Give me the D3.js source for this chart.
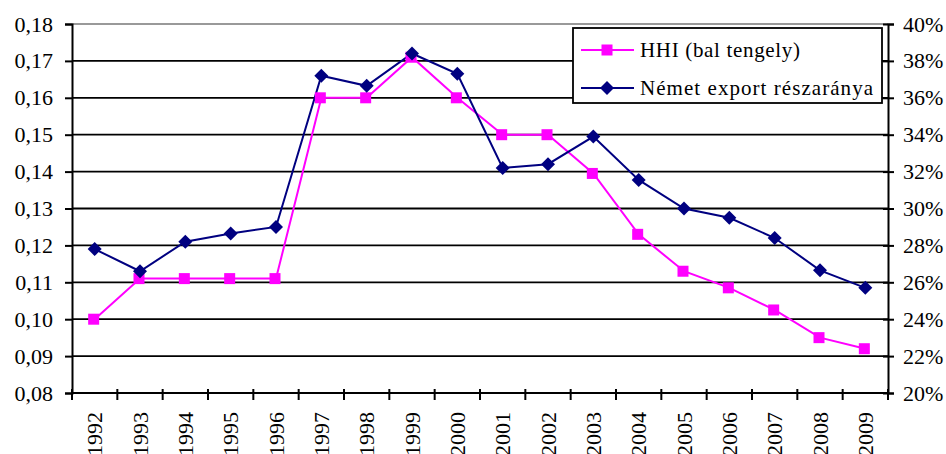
<!DOCTYPE html>
<html>
<head>
<meta charset="utf-8">
<script src="https://cdn.jsdelivr.net/npm/d3@7"></script>
<style>
  body { margin: 0; background: #fff; }
  svg text { font-family: "Liberation Serif", serif !important; }
</style>
</head>
<body>
<div id="chart"></div>
<script>
// Data
const years = ["1992", "1993", "1994", "1995", "1996", "1997", "1998", "1999", "2000",
  "2001", "2002", "2003", "2004", "2005", "2006", "2007", "2008", "2009"];
const hhi = [0.100, 0.111, 0.111, 0.111, 0.111, 0.160, 0.160, 0.171, 0.160,
  0.150, 0.150, 0.1395, 0.123, 0.113, 0.1085, 0.1025, 0.095, 0.092];
const germanShare = [0.278, 0.266, 0.282, 0.2865, 0.290, 0.372, 0.3665, 0.384, 0.373,
  0.322, 0.324, 0.339, 0.3155, 0.300, 0.295, 0.284, 0.2665, 0.257];
const leftTicks = [0.08, 0.09, 0.10, 0.11, 0.12, 0.13, 0.14, 0.15, 0.16, 0.17, 0.18];
const rightTicks = [0.20, 0.22, 0.24, 0.26, 0.28, 0.30, 0.32, 0.34, 0.36, 0.38, 0.40];
const seriesNames = ["HHI (bal tengely)", "Német export részaránya"];

const data = years.map((y, i) => ({year: y, hhi: hhi[i], share: germanShare[i]}));

// The SVG dimensions
const margin = {top: 24, right: 58, bottom: 61, left: 72},
  width = 946 - margin.left - margin.right,
  height = 454 - margin.top - margin.bottom;

const pink = "#ff00ff", navy = "#000080";

// Scales
const x = d3.scaleBand().domain(years).range([0, width]);
const yL = d3.scaleLinear().domain([0.08, 0.18]).range([height, 0]);
const yR = d3.scaleLinear().domain([0.20, 0.40]).range([height, 0]);
const cx = d => x(d.year) + x.bandwidth() / 2;

const svg = d3.select("#chart").append("svg")
  .attr("width", 946).attr("height", 454)
  .attr("font-family", "Liberation Serif, serif")
  .append("g")
  .attr("transform", `translate(${margin.left},${margin.top})`);

// Gridlines (black) and grey top border
svg.append("g").selectAll("line")
  .data(leftTicks.slice(1, -1))
  .join("line")
  .attr("x1", 0).attr("x2", width)
  .attr("y1", d => yL(d)).attr("y2", d => yL(d))
  .attr("stroke", "#000").attr("stroke-width", 1.8);
svg.append("line")
  .attr("x1", 0).attr("x2", width).attr("y1", 0).attr("y2", 0)
  .attr("stroke", "#999").attr("stroke-width", 1.8);

// Left axis
const comma = v => d3.format(".2f")(v).replace(".", ",");
const gL = svg.append("g")
  .call(d3.axisLeft(yL).tickValues(leftTicks).tickFormat(comma).tickSize(7).tickPadding(12));
// Right axis
const gR = svg.append("g")
  .attr("transform", `translate(${width},0)`)
  .call(d3.axisRight(yR).tickValues(rightTicks).tickFormat(d3.format(".0%")).tickSize(6).tickPadding(9));
[gL, gR].forEach(g => {
  g.attr("font-family", null);
  g.select(".domain").attr("stroke", "#000").attr("stroke-width", 2);
  g.selectAll(".tick line").attr("stroke", "#000").attr("stroke-width", 2);
  g.selectAll(".tick text").attr("font-size", 22).attr("fill", "#000");
});
gR.selectAll(".tick line").attr("x1", -5);

// Bottom axis with ticks between categories
svg.append("line")
  .attr("x1", 0).attr("x2", width).attr("y1", height).attr("y2", height)
  .attr("stroke", "#000").attr("stroke-width", 2);
svg.append("g").selectAll("line")
  .data(years.concat(["end"]))
  .join("line")
  .attr("x1", (d, i) => i * x.bandwidth()).attr("x2", (d, i) => i * x.bandwidth())
  .attr("y1", height - 4).attr("y2", height + 7)
  .attr("stroke", "#000").attr("stroke-width", 2);
svg.append("g").selectAll("text")
  .data(years)
  .join("text")
  .attr("transform", d => `translate(${x(d) + x.bandwidth() / 2},${height + 19}) rotate(-90)`)
  .attr("dy", "0.35em")
  .attr("text-anchor", "end")
  .attr("font-size", 22)
  .text(d => d);

// Lines
const lineHHI = d3.line().x(cx).y(d => yL(d.hhi));
const lineShare = d3.line().x(cx).y(d => yR(d.share));

svg.append("path").datum(data)
  .attr("fill", "none").attr("stroke", pink).attr("stroke-width", 2)
  .attr("d", lineHHI);
svg.append("path").datum(data)
  .attr("fill", "none").attr("stroke", navy).attr("stroke-width", 2)
  .attr("d", lineShare);

// Markers
const sq = 11, dm = 7;
svg.append("g").selectAll("rect")
  .data(data)
  .join("rect")
  .attr("x", d => cx(d) - sq / 2 - 1).attr("y", d => yL(d.hhi) - sq / 2)
  .attr("width", sq).attr("height", sq)
  .attr("fill", pink);
svg.append("g").selectAll("path")
  .data(data)
  .join("path")
  .attr("d", d => {
    const px = cx(d), py = yR(d.share);
    return `M${px},${py - dm}L${px + dm},${py}L${px},${py + dm}L${px - dm},${py}Z`;
  })
  .attr("fill", navy);

// Legend
const leg = svg.append("g").attr("transform", `translate(${573 - margin.left},${28 - margin.top})`);
leg.append("rect")
  .attr("width", 309).attr("height", 75)
  .attr("fill", "#fff").attr("stroke", "#000").attr("stroke-width", 1.8);
const legRows = [
  {name: seriesNames[0], color: pink, y: 22, len: 160},
  {name: seriesNames[1], color: navy, y: 60, len: 233}
];
legRows.forEach((r, i) => {
  leg.append("line")
    .attr("x1", 8).attr("x2", 61).attr("y1", r.y).attr("y2", r.y)
    .attr("stroke", r.color).attr("stroke-width", 2);
  if (i === 0) {
    leg.append("rect").attr("x", 34 - sq / 2).attr("y", r.y - sq / 2)
      .attr("width", sq).attr("height", sq).attr("fill", r.color);
  } else {
    leg.append("path")
      .attr("d", `M34,${r.y - dm}L${34 + dm},${r.y}L34,${r.y + dm}L${34 - dm},${r.y}Z`)
      .attr("fill", r.color);
  }
  leg.append("text")
    .attr("x", 67).attr("y", r.y).attr("dy", "0.35em")
    .attr("font-size", 21)
    .attr("textLength", r.len).attr("lengthAdjust", "spacing")
    .text(r.name);
});
</script>
</body>
</html>
